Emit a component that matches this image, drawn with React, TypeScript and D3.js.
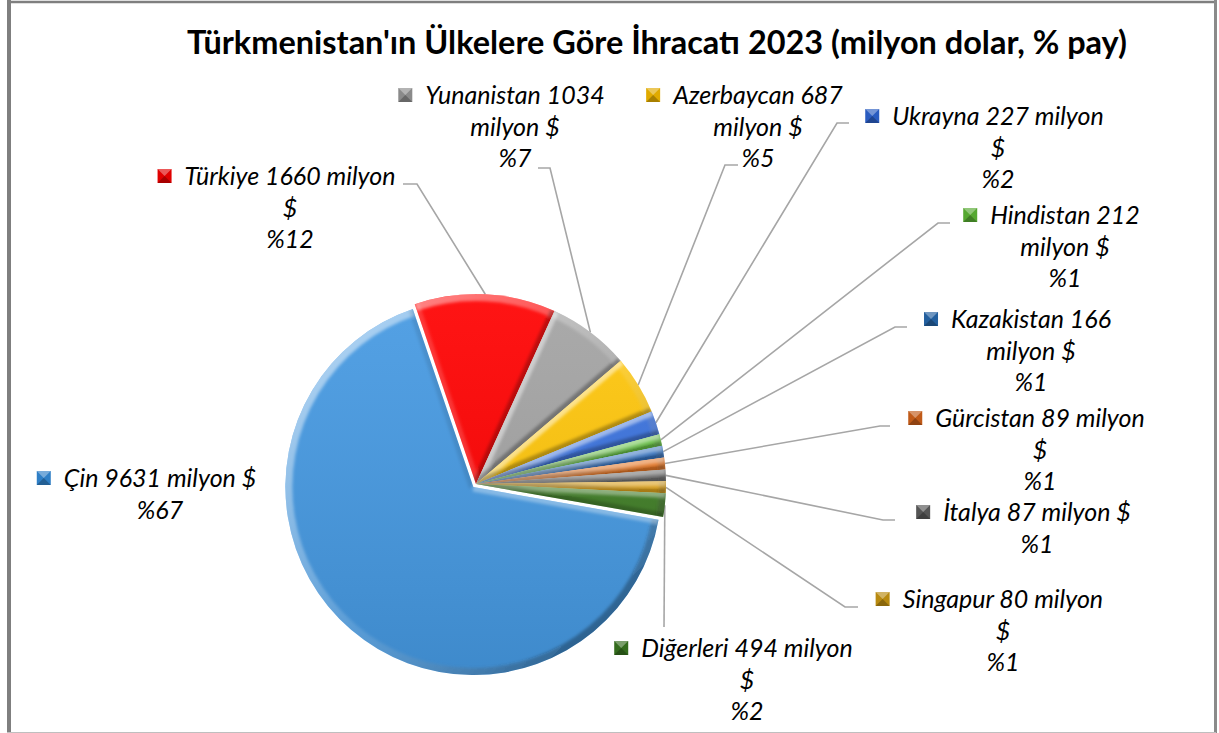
import React from "react";
import * as d3 from "d3";

// ---------------- data ----------------
const countries = ["Çin", "Türkiye", "Yunanistan", "Azerbaycan", "Ukrayna", "Hindistan", "Kazakistan", "Gürcistan", "İtalya", "Singapur", "Diğerleri"];
const exportMillions = [9631, 1660, 1034, 687, 227, 212, 166, 89, 87, 80, 494];
const sharePercent = [67, 12, 7, 5, 2, 1, 1, 1, 1, 1, 2];
const titleText = "Türkmenistan'ın Ülkelere Göre İhracatı 2023 (milyon dolar, % pay)";

// ---------------- style / layout ----------------
const sliceColors = ["#4599e2", "#ff0000", "#a3a3a3", "#ffc60a", "#3a72de", "#62c23e", "#2d70c4", "#ec741c", "#6e6e6e", "#e3a312", "#3f7d25"];
const markerColors = ["#2f7fc6", "#e00000", "#8a8a8a", "#e0aa00", "#2a5cc0", "#55a830", "#235f9e", "#c05a18", "#555555", "#b88a10", "#336b1d"];
const firstLineWords = [4, 3, 2, 2, 3, 2, 2, 3, 4, 3, 3];
const labelAnchors: [number, number][] = [
  [160, 487], [290, 185], [515, 104], [758, 104], [998, 125], [1065, 224],
  [1031, 328], [1040, 427], [1037, 521], [1003, 608], [747, 657],
];
const leaderElbows: ([number, number, number, number] | null)[] = [
  null, [417, 184, 403, 184], [550, 168, 538, 168], [725, 165, 738, 165], [837, 123, 849, 123],
  [938, 223, 950, 223], [895, 327, 907, 327], [880, 426, 890, 426], [883, 520, 895, 520],
  [845, 607, 858, 607], [664, 627, 664, 627],
];

const W = 1219, H = 733;
const CX = 476, CY = 484, R = 190;
const START_DEG = 100;
const FONT = "Lato, 'Open Sans', sans-serif";
const LABEL_FS = 25;
const LINE_H = 31.5;

let ctx: CanvasRenderingContext2D | null = null;
function measure(s: string, font: string) {
  if (!ctx) ctx = document.createElement("canvas").getContext("2d");
  if (!ctx) return s.length * 11;
  ctx.font = font;
  return ctx.measureText(s).width;
}

function shade(nx: number, ny: number) {
  const lx = -0.6, ly = -0.8;
  const s = nx * lx + ny * ly;
  return s >= 0 ? `rgba(255,255,255,${(0.5 * s).toFixed(3)})` : `rgba(0,0,0,${(0.3 * -s).toFixed(3)})`;
}

export default function App() {
  const a0 = (START_DEG * Math.PI) / 180;
  const arcs = d3.pie<number>().sort(null).startAngle(a0).endAngle(a0 + 2 * Math.PI)(sharePercent);

  return (
    <svg width={W} height={H} style={{ position: "absolute", left: 0, top: 0, background: "#fff" }}>
      <defs>
        <linearGradient id="rimGrad" gradientUnits="userSpaceOnUse" x1={-R * 0.7} y1={-R * 0.7} x2={R * 0.7} y2={R * 0.7}>
          <stop offset="0" stopColor="#fff" stopOpacity={0.5} />
          <stop offset="0.55" stopColor="#fff" stopOpacity={0.12} />
          <stop offset="1" stopColor="#000" stopOpacity={0.3} />
        </linearGradient>
        <linearGradient id="bodyGrad" gradientUnits="userSpaceOnUse" x1={0} y1={-R} x2={0} y2={R}>
          <stop offset="0" stopColor="#fff" stopOpacity={0.08} />
          <stop offset="1" stopColor="#000" stopOpacity={0.1} />
        </linearGradient>
        <filter id="soft" x="-20%" y="-20%" width="140%" height="140%">
          <feGaussianBlur stdDeviation="1.6" />
        </filter>
      </defs>

      {/* frame */}
      <line x1={9} y1={0} x2={9} y2={H} stroke="#7f7f7f" strokeWidth={4} />
      <line x1={7} y1={2} x2={1216} y2={2} stroke="#7f7f7f" strokeWidth={2.5} />
      <line x1={1215.5} y1={0} x2={1215.5} y2={H} stroke="#8a8a8a" strokeWidth={3} />
      <line x1={7} y1={732.5} x2={1216} y2={732.5} stroke="#bfbfbf" strokeWidth={1} />

      {/* title */}
      <text x={657} y={54} textAnchor="middle" fontFamily={FONT} fontWeight={700} fontSize={33}
        textLength={940} lengthAdjust="spacingAndGlyphs" fill="#000">{titleText}</text>

      {/* leader lines */}
      {arcs.map((d, i) => {
        const el = leaderElbows[i];
        if (!el) return null;
        const rim = d3.arc<any>().innerRadius(R).outerRadius(R);
        const [px, py] = rim.centroid(d);
        const pts = `${CX + px},${CY + py} ${el[0]},${el[1]} ${el[2]},${el[3]}`;
        return <polyline key={"l" + i} points={pts} fill="none" stroke="#a6a6a6" strokeWidth={1.6} />;
      })}

      {/* slices */}
      {arcs.map((d, i) => {
        const r = i === 0 ? 188 : R;
        const mid = (d.startAngle + d.endAngle) / 2;
        const off = i === 0 ? 4 : 0;
        const dx = off * Math.sin(mid), dy = -off * Math.cos(mid);
        const path = d3.arc<any>().innerRadius(0).outerRadius(r)(d) as string;
        const s = d.startAngle, e = d.endAngle;
        const sx = r * Math.sin(s), sy = -r * Math.cos(s);
        const ex = r * Math.sin(e), ey = -r * Math.cos(e);
        const large = e - s > Math.PI ? 1 : 0;
        const rimPath = `M${sx},${sy}A${r},${r} 0 ${large} 1 ${ex},${ey}`;
        const n0 = shade(-Math.cos(s), -Math.sin(s));
        const n1 = shade(Math.cos(e), Math.sin(e));
        return (
          <g key={"s" + i} transform={`translate(${CX + dx},${CY + dy})`}>
            <clipPath id={"clip" + i}><path d={path} /></clipPath>
            <path d={path} fill={sliceColors[i]} />
            <g clipPath={`url(#clip${i})`}>
              <path d={path} fill="url(#bodyGrad)" />
              <g filter="url(#soft)">
                <path d={rimPath} fill="none" stroke="url(#rimGrad)" strokeWidth={14} />
                <line x1={0} y1={0} x2={sx} y2={sy} stroke={n0} strokeWidth={9} />
                <line x1={0} y1={0} x2={ex} y2={ey} stroke={n1} strokeWidth={9} />
              </g>
            </g>
          </g>
        );
      })}

      {/* labels */}
      {countries.map((c, i) => {
        const words = `${c} ${exportMillions[i]} milyon $`.split(" ");
        const n = firstLineWords[i];
        const lines = [words.slice(0, n).join(" ")];
        if (words.length > n) lines.push(words.slice(n).join(" "));
        lines.push(`%${sharePercent[i]}`);
        const [lx, ly] = labelAnchors[i];
        const font = `italic ${LABEL_FS}px Lato`;
        const w0 = measure(lines[0], font);
        const mx = lx - w0 / 2 - 13 - 14;
        const my = ly - 16;
        return (
          <g key={"t" + i}>
            <rect x={mx} y={my} width={14} height={14} fill={markerColors[i]} />
            <polygon points={`${mx},${my} ${mx + 14},${my} ${mx + 7},${my + 7}`} fill="#fff" fillOpacity={0.35} />
            <polygon points={`${mx},${my + 14} ${mx + 14},${my + 14} ${mx + 7},${my + 7}`} fill="#000" fillOpacity={0.25} />
            {lines.map((t, k) => (
              <text key={k} x={lx} y={ly + k * LINE_H} textAnchor="middle" fontFamily={FONT}
                fontStyle="italic" fontSize={LABEL_FS} fill="#000">{t}</text>
            ))}
          </g>
        );
      })}
    </svg>
  );
}
